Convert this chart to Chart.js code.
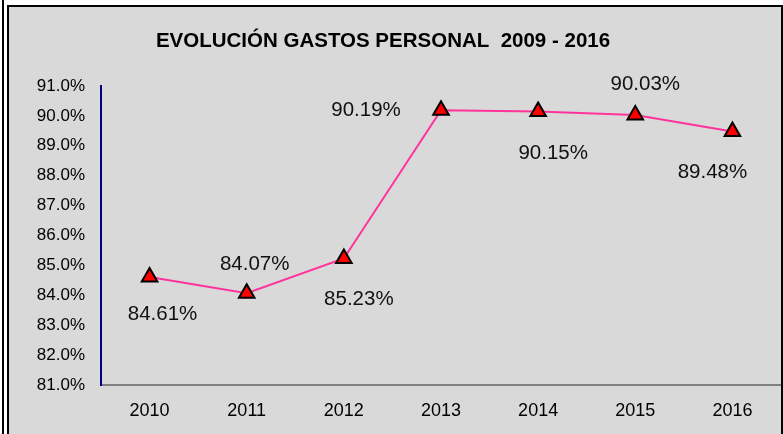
<!DOCTYPE html>
<html>
<head>
<meta charset="utf-8">
<script src="https://cdn.jsdelivr.net/npm/chart.js@4.4.1/dist/chart.umd.min.js"></script>
<style>
  html, body { margin: 0; padding: 0; background: #fff; }
  body { width: 783px; height: 434px; position: relative; overflow: hidden; }
  #outerLine { position: absolute; left: 2px; top: 0; width: 2px; height: 434px; background: #000; }
  #frame { position: absolute; left: 7px; top: 5px; width: 772px; height: 440px;
           border: 2px solid #000; border-bottom: none; background: #d9d9d9; }
  #wrap { position: absolute; left: 0; top: 0; width: 772px; height: 427px; }
</style>
</head>
<body>
<div id="outerLine"></div>
<div id="frame">
  <div id="wrap"><canvas id="gastosChart"></canvas></div>
</div>
<script>
// Datos
const years = ['2010', '2011', '2012', '2013', '2014', '2015', '2016'];
const gastosPct = [84.61, 84.07, 85.23, 90.19, 90.15, 90.03, 89.48];
const chartTitle = 'EVOLUCIÓN GASTOS PERSONAL  2009 - 2016';

// Colores
const lineColor = '#ff3399';
const pointColor = '#ff0000';
const axisBlue = '#000080';
const axisGray = '#808080';
const fontFamily = '"Liberation Sans", Arial, sans-serif';

// label placement around each point [dx, dy]
const labelOffsets = [[13, 37], [8, -29], [15, 41], [-75, 0], [15, 42], [10, -31], [-20, 41]];

const valueLabels = {
    id: 'valueLabels',
    afterDatasetsDraw: (chart) => {
        const ctx = chart.ctx;
        const meta = chart.getDatasetMeta(0);
        ctx.save();
        ctx.font = '20.5px ' + fontFamily;
        ctx.fillStyle = '#111';
        ctx.textAlign = 'center';
        ctx.textBaseline = 'middle';
        meta.data.forEach((pt, i) => {
            const off = labelOffsets[i];
            ctx.fillText(gastosPct[i].toFixed(2) + '%', pt.x + off[0], pt.y + off[1]);
        });
        ctx.restore();
    }
};

// title drawn by hand (Excel centres it a bit left of the canvas centre)
const titleText = {
    id: 'titleText',
    afterDraw: (chart) => {
        const ctx = chart.ctx;
        ctx.save();
        ctx.font = 'bold 20.5px ' + fontFamily;
        ctx.fillStyle = '#000';
        ctx.textAlign = 'center';
        ctx.textBaseline = 'middle';
        ctx.fillText(chartTitle, 374, 34);
        ctx.restore();
    }
};

new Chart(document.getElementById('gastosChart').getContext('2d'), {
    type: 'line',
    data: {
        labels: years,
        datasets: [{
            data: gastosPct,
            borderColor: lineColor,
            borderWidth: 2,
            tension: 0,
            fill: false,
            pointStyle: 'triangle',
            pointRadius: 9,
            pointBackgroundColor: pointColor,
            pointBorderColor: '#000',
            pointBorderWidth: 2
        }]
    },
    options: {
        responsive: true,
        maintainAspectRatio: false,
        animation: false,
        layout: { autoPadding: false, padding: { top: 79, left: 0, right: 0, bottom: 0 } },
        plugins: {
            legend: { display: false },
            tooltip: { enabled: false },
            title: { display: false }
        },
        scales: {
            x: {
                offset: true,
                grid: { display: false, drawTicks: false },
                border: { display: true, color: axisGray, width: 2 },
                ticks: {
                    color: '#000',
                    padding: 15,
                    font: { family: fontFamily, size: 18 }
                },
                afterFit: (s) => { s.height = 49; s.paddingLeft = 0; s.paddingRight = 0; }
            },
            y: {
                min: 81,
                max: 91,
                grid: { display: false, drawTicks: false },
                border: { display: true, color: axisBlue, width: 2 },
                ticks: {
                    stepSize: 1,
                    color: '#000',
                    padding: 16,
                    font: { family: fontFamily, size: 17 },
                    callback: (v) => v.toFixed(1) + '%'
                },
                afterFit: (s) => { s.width = 92; s.paddingTop = 0; s.paddingBottom = 0; }
            }
        }
    },
    plugins: [valueLabels, titleText]
});
</script>
</body>
</html>
